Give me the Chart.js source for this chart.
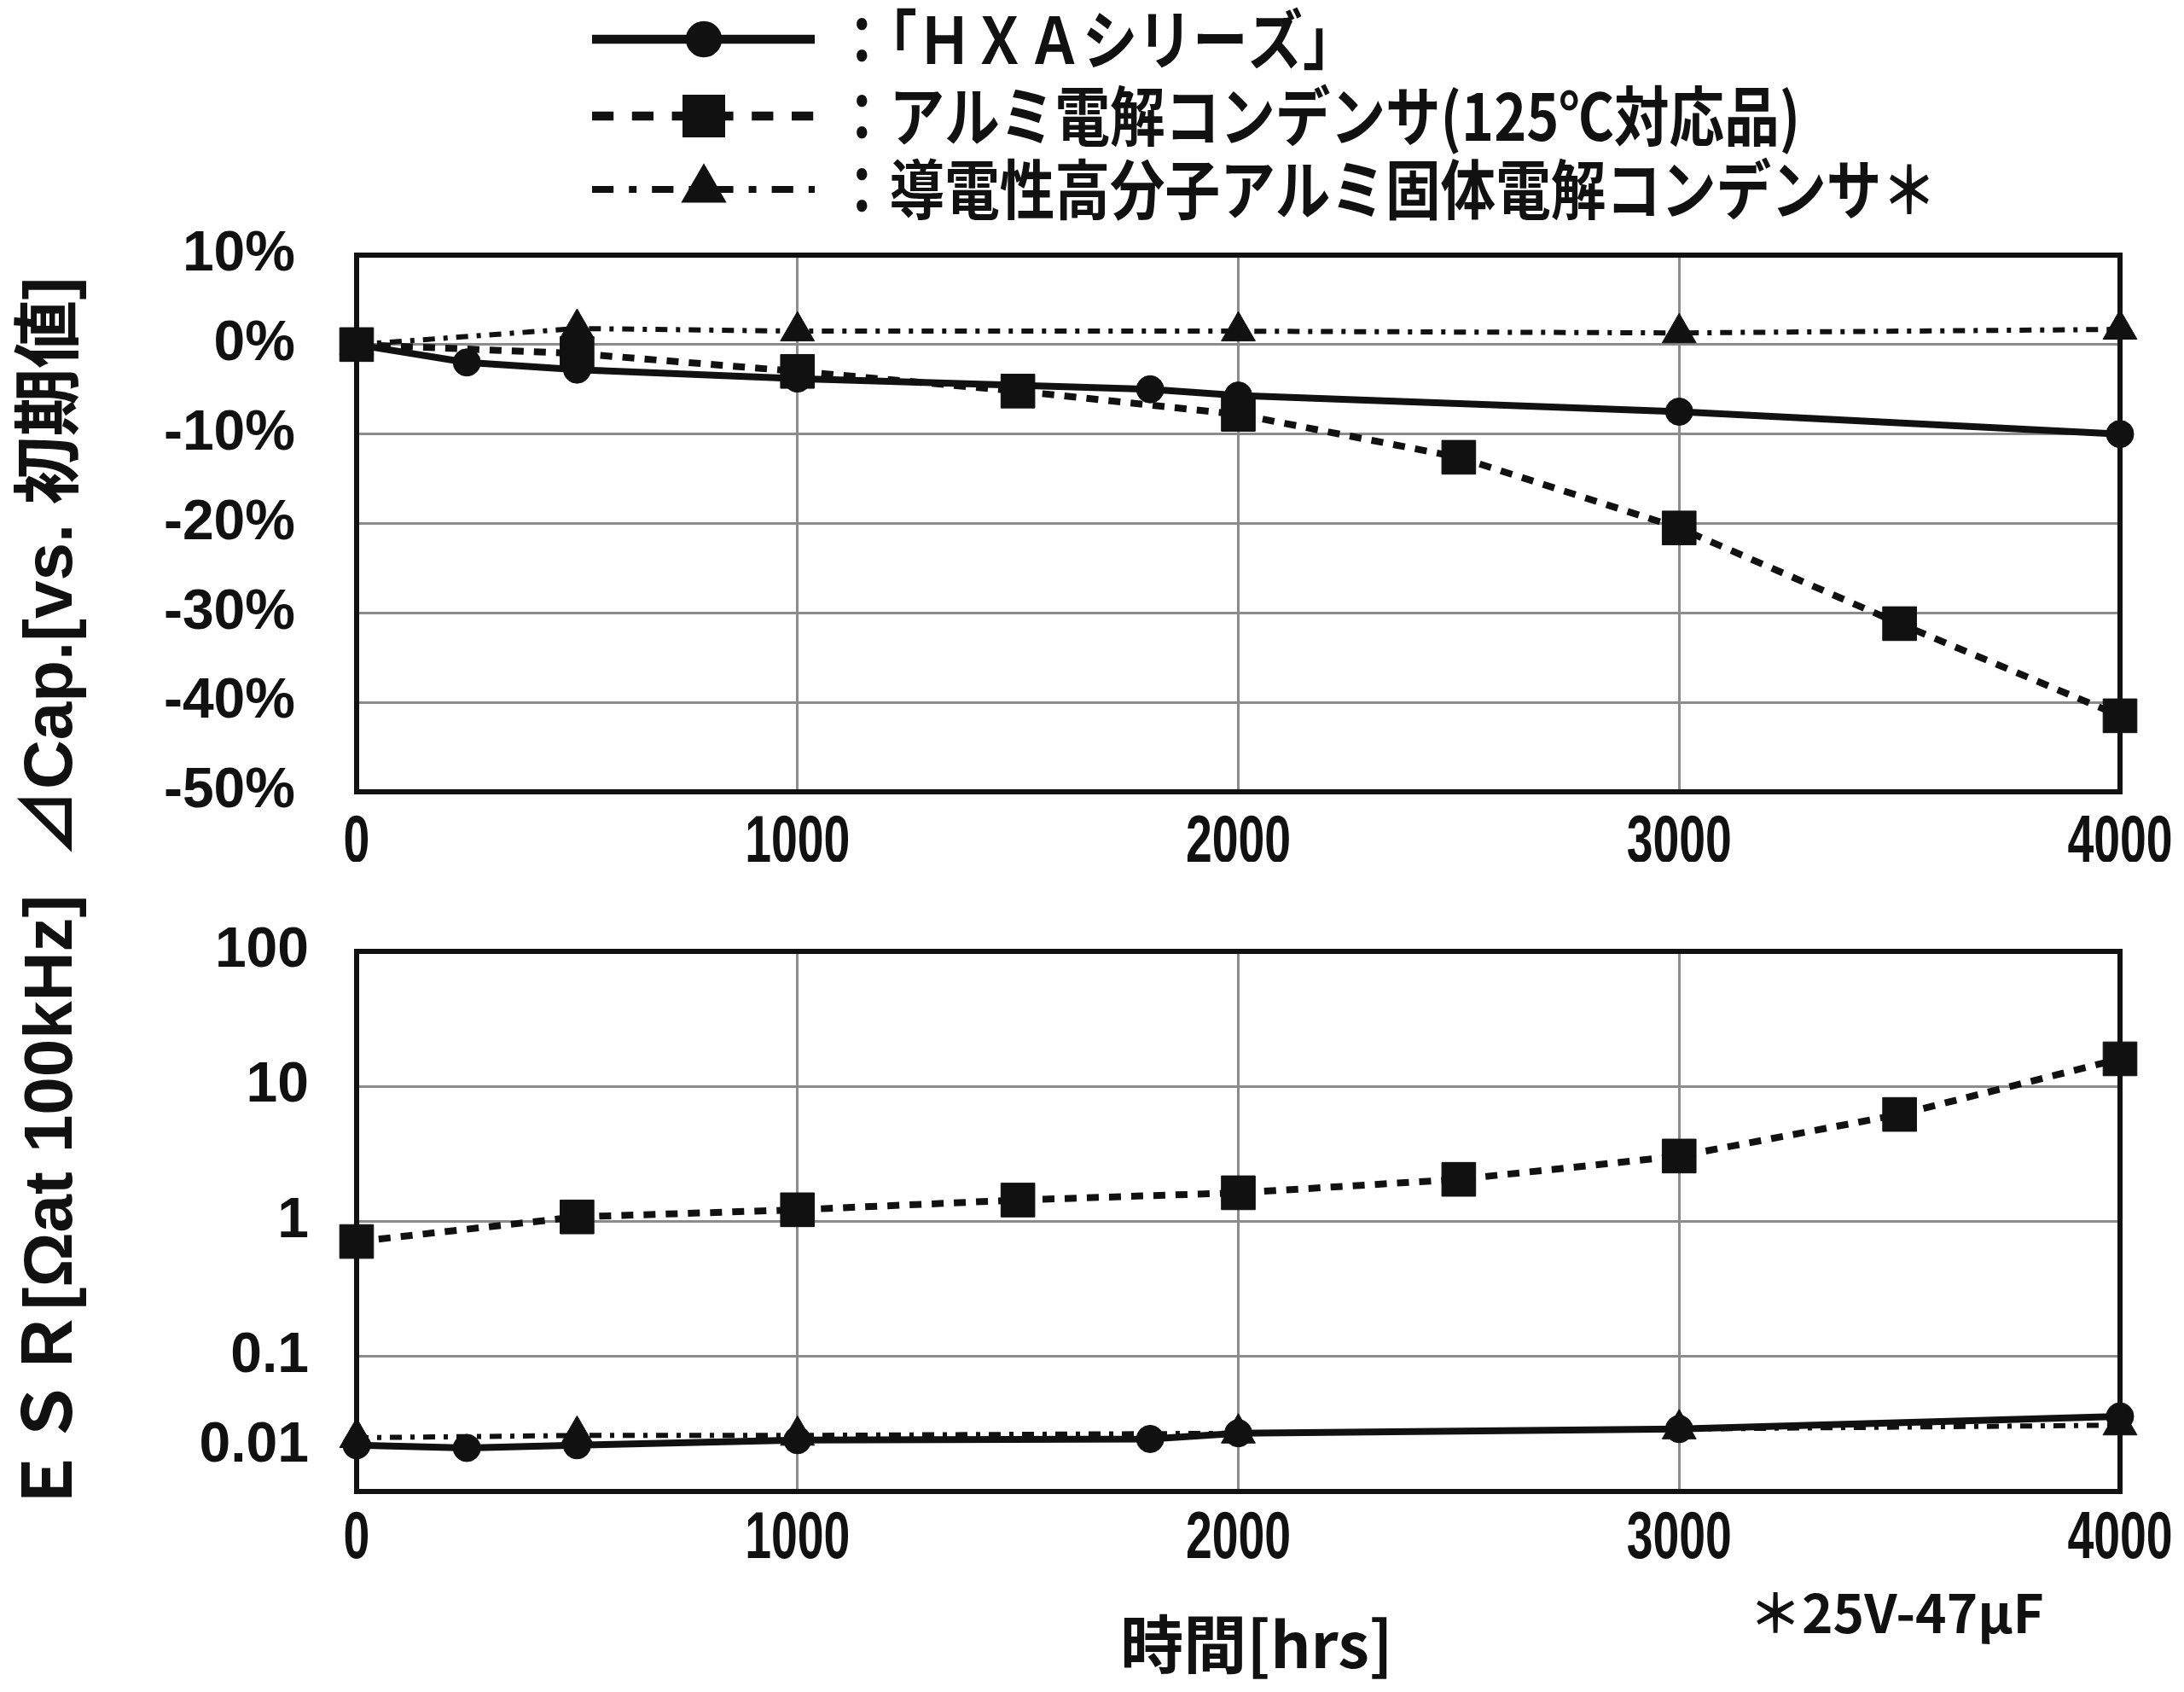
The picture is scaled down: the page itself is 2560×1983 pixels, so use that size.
<!DOCTYPE html>
<html lang="ja">
<head>
<meta charset="utf-8">
<title>HXA</title>
<script src="https://cdn.jsdelivr.net/npm/chart.js@4.4.1/dist/chart.umd.min.js"></script>
<style>
  html, body { margin: 0; padding: 0; background: #fff; }
  body { width: 2560px; height: 1983px; position: relative; overflow: hidden; }
  .box { position: absolute; left: 0; width: 2560px; }
  #capBox { top: 0; height: 1010px; }
  #esrBox { top: 1010px; height: 973px; }
</style>
</head>
<body>
<div class="box" id="capBox"><canvas id="capChart"></canvas></div>
<div class="box" id="esrBox"><canvas id="esrChart"></canvas></div>
<script>
// legend names
const seriesNames = ["：「ＨＸＡシリーズ」", "：アルミ電解コンデンサ(125℃対応品)", "：導電性高分子アルミ固体電解コンデンサ＊"];

// test hours of each series
const hxaHours = [0, 250, 500, 1000, 1800, 2000, 3000, 4000];
const alHours = [0, 500, 1000, 1500, 2000, 2500, 3000, 3500, 4000];
const polyHours = [0, 500, 1000, 2000, 3000, 4000];

// capacitance change vs initial [%]
const hxaCap = [0, -2, -2.8, -3.8, -5, -5.7, -7.5, -10];
const alCap = [0, -1, -3, -5.2, -7.8, -12.6, -20.5, -31.2, -41.5];
const polyCap = [0, 1.8, 1.5, 1.5, 1.3, 1.7];

// ESR at 100kHz [ohm]
const hxaEsr = [0.022, 0.021, 0.022, 0.024, 0.0245, 0.027, 0.029, 0.036];
const alEsr = [0.71, 1.08, 1.22, 1.44, 1.63, 2.05, 3.05, 6.2, 16];
const polyEsr = [0.025, 0.026, 0.026, 0.027, 0.029, 0.031];

// axis ticks
const hourTicks = [0, 1000, 2000, 3000, 4000];
const capTicks = [10, 0, -10, -20, -30, -40, -50];
const esrTicks = [100, 10, 1, 0.1, 0.01];

const jpFont = '"Noto Sans CJK JP", sans-serif';
const latFont = '"Liberation Sans", "Noto Sans CJK JP", sans-serif';
const ink = '#111';
const gridGray = '#8c8c8c';

function toPoints(hours, vals) {
    return hours.map((h, i) => ({x: h, y: vals[i]}));
}

function ascTicks(list) {
    return [...list].sort((a, b) => a - b).map(v => ({value: v}));
}

// line + marker look per series
const seriesLook = [
    {borderWidth: 8, borderDash: [], pointStyle: 'circle', pointRadius: 16},
    {borderWidth: 8, borderDash: [14, 12], pointStyle: 'rect', pointRadius: 28},
    {borderWidth: 6, borderDash: [14, 10, 5, 10], pointStyle: 'triangle', pointRadius: 23}
];

function makeSets(list) {
    return list.map((pts, i) => ({
        label: seriesNames[i],
        data: pts,
        borderColor: ink,
        backgroundColor: ink,
        pointBackgroundColor: ink,
        pointBorderColor: ink,
        pointBorderWidth: 1,
        borderWidth: seriesLook[i].borderWidth,
        borderDash: seriesLook[i].borderDash,
        pointStyle: seriesLook[i].pointStyle,
        pointRadius: seriesLook[i].pointRadius,
        tension: 0,
        fill: false,
        clip: false
    }));
}

// black box round the plot area
const framePlugin = {
    id: 'frame',
    beforeDatasetsDraw(chart) {
        let ctx = chart.ctx, a = chart.chartArea;
        ctx.save();
        ctx.strokeStyle = ink;
        ctx.lineWidth = 6;
        ctx.strokeRect(a.left, a.top, a.right - a.left, a.bottom - a.top);
        ctx.restore();
    }
};

// condensed hour labels under the x axis
const hourLabels = {
    id: 'hourLabels',
    afterDraw(chart, args, opts) {
        let ctx = chart.ctx, s = chart.scales.x;
        ctx.save();
        ctx.fillStyle = ink;
        ctx.font = 'bold 78px "Liberation Sans", sans-serif';
        ctx.textAlign = 'center';
        ctx.textBaseline = 'middle';
        hourTicks.forEach(v => {
            ctx.save();
            ctx.translate(s.getPixelForValue(v), chart.chartArea.bottom + opts.dy);
            ctx.scale(0.71, 1);
            ctx.fillText(String(v), 0, 0);
            ctx.restore();
        });
        ctx.restore();
    }
};

// free texts (axis titles, notes)
const notesPlugin = {
    id: 'notes',
    afterDraw(chart, args, opts) {
        let ctx = chart.ctx;
        (opts.items || []).forEach(t => {
            ctx.save();
            ctx.translate(t.x, t.y);
            if (t.rot) ctx.rotate(t.rot);
            ctx.scale(t.sx || 1, 1);
            ctx.font = t.font;
            ctx.fillStyle = ink;
            ctx.textAlign = t.align || 'center';
            ctx.textBaseline = 'middle';
            ctx.fillText(t.text, 0, 0);
            ctx.restore();
        });
    }
};

// legend with line sample + marker
const lineLegend = {
    id: 'lineLegend',
    afterDraw(chart, args, opts) {
        if (!opts.show) return;
        let ctx = chart.ctx;
        chart.data.datasets.forEach((ds, i) => {
            let y = opts.rows[i];
            ctx.save();
            ctx.strokeStyle = ink;
            ctx.lineWidth = ds.borderWidth * 1.3;
            ctx.setLineDash(ds.borderDash.map(d => d * 1.8));
            ctx.beginPath();
            ctx.moveTo(opts.x0, y);
            ctx.lineTo(opts.x1, y);
            ctx.stroke();
            ctx.setLineDash([]);
            ctx.fillStyle = ink;
            Chart.helpers.drawPoint(ctx, {pointStyle: ds.pointStyle, radius: ds.pointRadius, rotation: 0, borderWidth: 1}, opts.xm, y);
            ctx.translate(opts.xt, y);
            ctx.scale(opts.sx, 1);
            ctx.font = opts.font;
            ctx.textAlign = 'left';
            ctx.textBaseline = 'middle';
            ctx.fillText(ds.label, 0, 0);
            ctx.restore();
        });
    }
};

// lowest ESR label sits above the bottom line in the original
const liftLabel = {
    id: 'liftLabel',
    afterDraw(chart, args, opts) {
        let ctx = chart.ctx, s = chart.scales.y;
        let v = esrTicks[esrTicks.length - 1];
        ctx.save();
        ctx.font = 'bold 66px ' + latFont;
        ctx.fillStyle = ink;
        ctx.textAlign = 'right';
        ctx.textBaseline = 'middle';
        ctx.fillText(String(v), s.right - opts.pad, s.getPixelForValue(v) - opts.lift);
        ctx.restore();
    }
};

function xAxis(h) {
    return {
        type: 'linear', min: 0, max: 4000,
        afterBuildTicks: s => { s.ticks = ascTicks(hourTicks); },
        afterFit: s => { s.height = h; },
        grid: {color: gridGray, lineWidth: 3, drawTicks: false},
        border: {display: false},
        ticks: {display: false}
    };
}

function yGrid(gap) {
    return {color: gridGray, lineWidth: 3, drawTicks: true, tickLength: gap, tickColor: 'rgba(0,0,0,0)'};
}

// capacitance chart
new Chart(document.getElementById('capChart'), {
    type: 'line',
    data: {
        datasets: makeSets([toPoints(hxaHours, hxaCap), toPoints(alHours, alCap), toPoints(polyHours, polyCap)])
    },
    options: {
        responsive: true, maintainAspectRatio: false, devicePixelRatio: 1, animation: false,
        layout: {padding: {left: 0, right: 75, top: 299, bottom: 0}},
        scales: {
            x: xAxis(82),
            y: {
                type: 'linear', min: -50, max: 10,
                afterBuildTicks: s => { s.ticks = ascTicks(capTicks); },
                afterFit: s => { s.width = 418; },
                grid: yGrid(72),
                border: {display: false},
                ticks: {color: ink, padding: 0, font: {family: latFont, size: 66, weight: 'bold'},
                    callback: v => v + '%'}
            }
        },
        plugins: {
            legend: {display: false},
            tooltip: {enabled: false},
            hourLabels: {dy: 60},
            lineLegend: {show: true, rows: [46, 136, 222], x0: 694, x1: 955, xm: 825, xt: 978, sx: 0.85,
                font: 'bold 76px ' + jpFont},
            notes: {items: [
                {text: '⊿Cap.[vs. 初期値]', x: 62, y: 665, rot: -Math.PI / 2, font: 'bold 80px ' + latFont}
            ]}
        }
    },
    plugins: [framePlugin, hourLabels, lineLegend, notesPlugin]
});

// ESR chart
new Chart(document.getElementById('esrChart'), {
    type: 'line',
    data: {
        datasets: makeSets([toPoints(hxaHours, hxaEsr), toPoints(alHours, alEsr), toPoints(polyHours, polyEsr)])
    },
    options: {
        responsive: true, maintainAspectRatio: false, devicePixelRatio: 1, animation: false,
        layout: {padding: {left: 0, right: 75, top: 105, bottom: 0}},
        scales: {
            x: xAxis(235),
            y: {
                type: 'logarithmic', min: 0.01, max: 100,
                afterBuildTicks: s => { s.ticks = ascTicks(esrTicks); },
                afterFit: s => { s.width = 418; },
                grid: yGrid(56),
                border: {display: false},
                ticks: {color: ink, padding: 0, font: {family: latFont, size: 66, weight: 'bold'},
                    callback: v => (v === esrTicks[esrTicks.length - 1] ? '' : String(v))}
            }
        },
        plugins: {
            legend: {display: false},
            tooltip: {enabled: false},
            hourLabels: {dy: 56},
            liftLabel: {pad: 56, lift: 53},
            notes: {items: [
                {text: 'ＥＳＲ[Ωat 100kHz]', x: 62, y: 402, rot: -Math.PI / 2, font: 'bold 80px ' + latFont},
                {text: '時間[hrs]', x: 1473, y: 917, font: 'bold 74px ' + jpFont},
                {text: '＊25V-47μF', x: 2050, y: 880, align: 'left', font: 'bold 62px ' + jpFont}
            ]}
        }
    },
    plugins: [framePlugin, hourLabels, liftLabel, notesPlugin]
});
</script>
</body>
</html>
